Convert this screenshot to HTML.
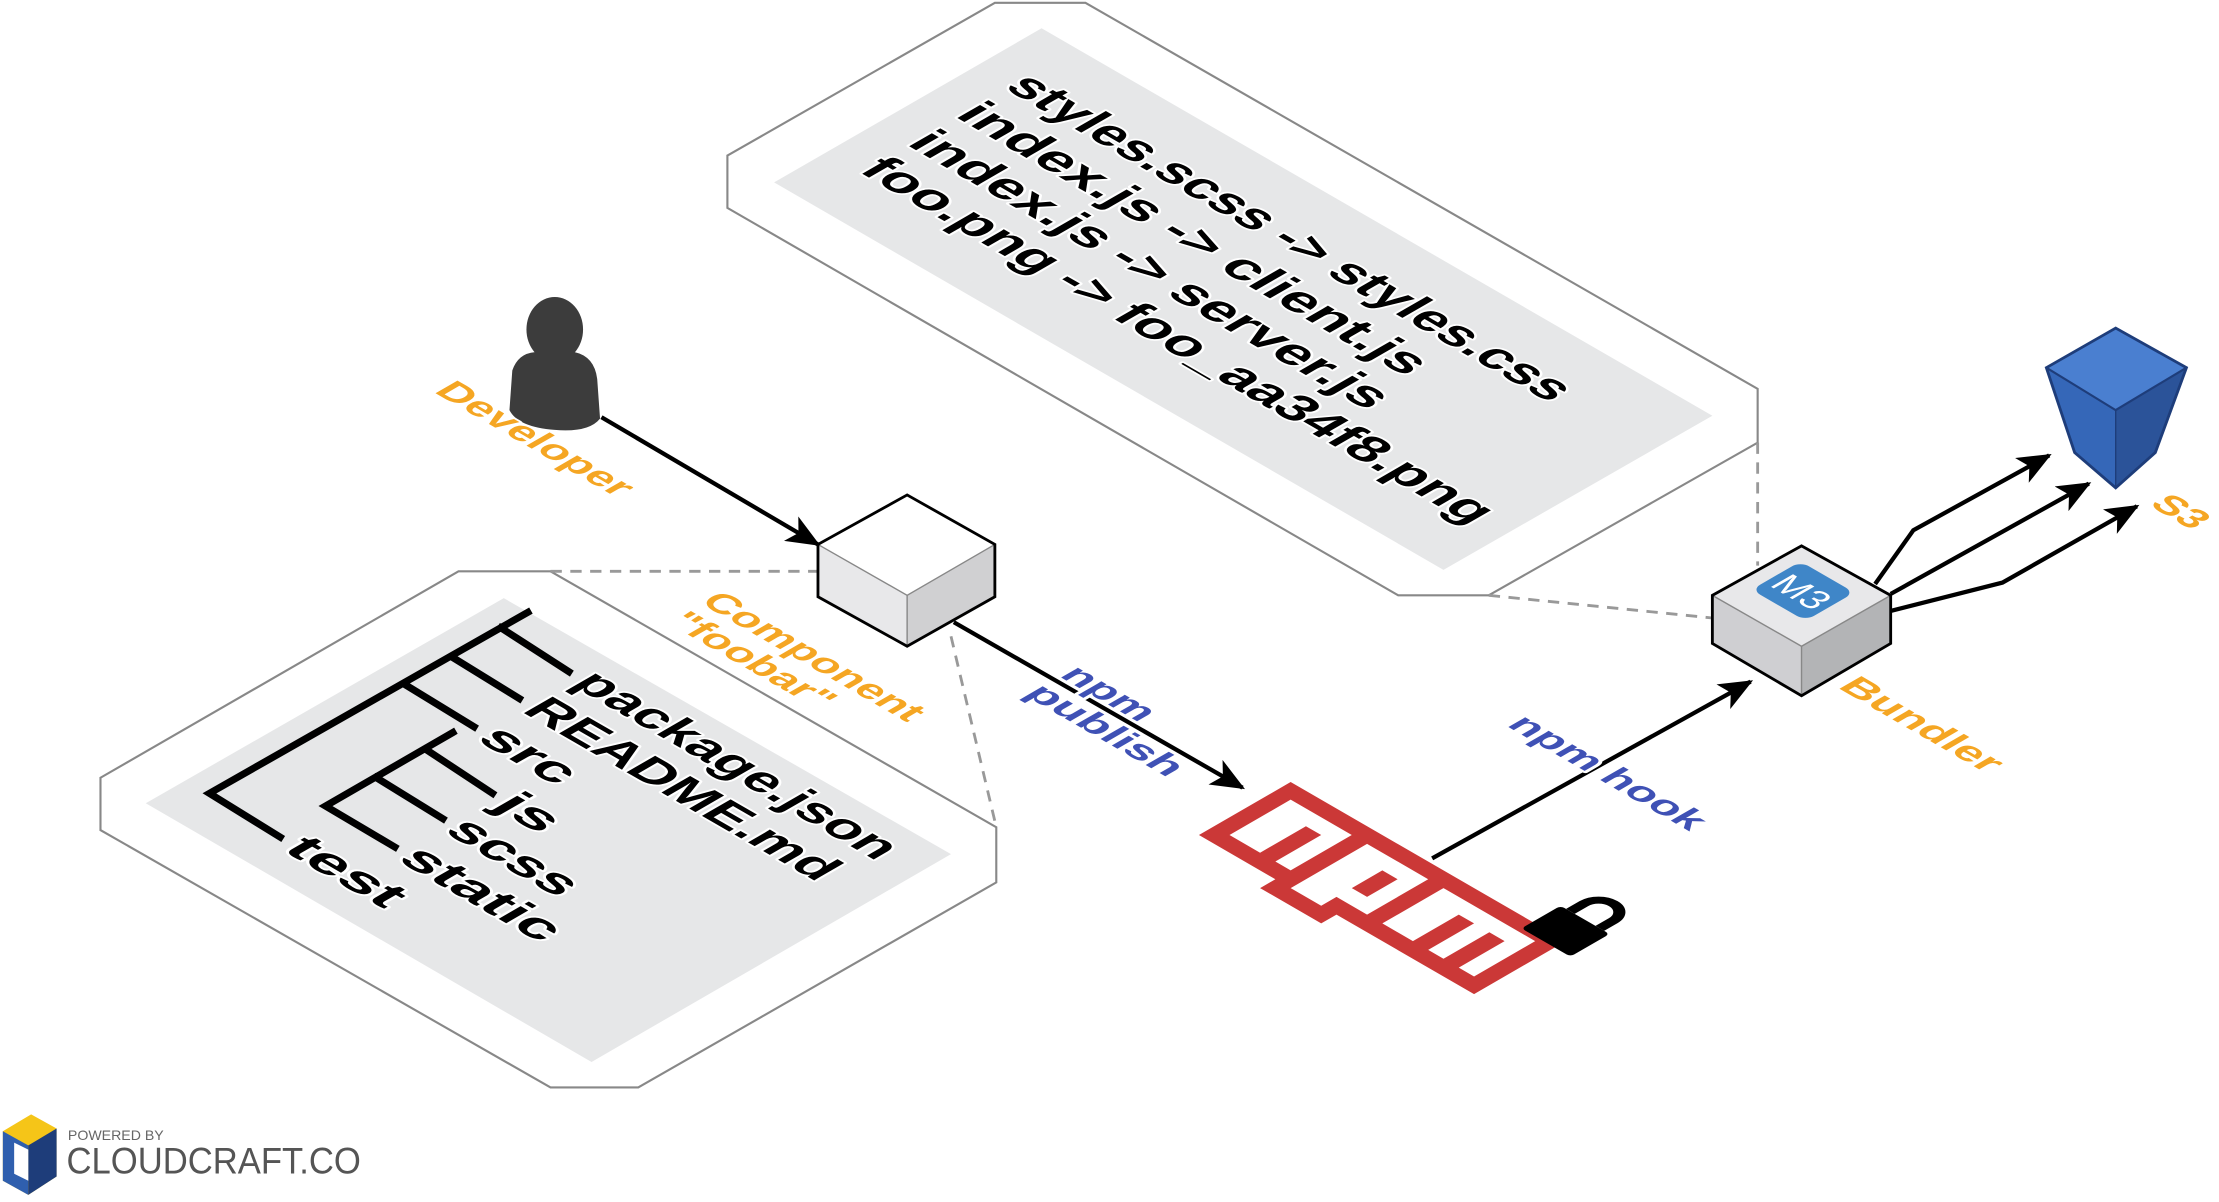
<!DOCTYPE html>
<html><head><meta charset="utf-8"><style>html,body{margin:0;padding:0;background:#fff;}svg{display:block}</style></head>
<body>
<svg width="2219" height="1202" viewBox="0 0 1568 850" preserveAspectRatio="none" xmlns="http://www.w3.org/2000/svg" font-family="'Liberation Sans', 'DejaVu Sans', sans-serif" font-weight="bold">
<defs>
<marker id="a" viewBox="0 0 24 20" refX="22" refY="10" markerWidth="24" markerHeight="20" orient="auto" markerUnits="userSpaceOnUse">
<path d="M0,0 L24,10 L0,20 L6,10 Z" fill="#000"/>
</marker>
</defs>

<!-- top panel -->
<polygon points="514,110 703,2 767,2 1242,275 1242,313 1052,421 988,421 514,147" fill="#fff" stroke="#888" stroke-width="1.5"/>
<polygon points="736,20 1210,294 1020,403 547,129" fill="#e6e7e8"/>
<g font-size="35" fill="#000" stroke="#fff" stroke-width="3" paint-order="stroke" stroke-linejoin="round">
<text transform="matrix(0.866,0.5,-0.866,0.5,709,62)" textLength="446" lengthAdjust="spacingAndGlyphs">styles.scss -&gt; styles.css</text>
<text transform="matrix(0.866,0.5,-0.866,0.5,674,82)" textLength="369" lengthAdjust="spacingAndGlyphs">index.js -&gt; client.js</text>
<text transform="matrix(0.866,0.5,-0.866,0.5,640,102)" textLength="377" lengthAdjust="spacingAndGlyphs">index.js -&gt; server.js</text>
<text transform="matrix(0.866,0.5,-0.866,0.5,606,121)" textLength="501" lengthAdjust="spacingAndGlyphs">foo.png -&gt; foo_aa34f8.png</text>
</g>

<!-- left panel -->
<polygon points="71,550 324,404 389,404 704,585 704,624 451,769 389,769 71,587" fill="#fff" stroke="#888" stroke-width="1.5"/>
<polygon points="356,423 672,604 418,751 103,568" fill="#e6e7e8"/>
<g stroke="#000" stroke-width="5" fill="none" stroke-linecap="square">
<polyline points="373,433 148,561 198,592"/>
<line x1="354" y1="444" x2="402" y2="475"/>
<line x1="320" y1="465" x2="367" y2="494"/>
<line x1="286" y1="484" x2="335" y2="514"/>
<polyline points="320,518 230,570 279,599"/>
<line x1="301" y1="530" x2="348" y2="561"/>
<line x1="266" y1="550" x2="313" y2="579"/>
</g>
<g font-size="34" fill="#000" stroke="#fff" stroke-width="3" paint-order="stroke" stroke-linejoin="round">
<text transform="matrix(0.866,0.5,-0.866,0.5,403,484)" textLength="250" lengthAdjust="spacingAndGlyphs">package.json</text>
<text transform="matrix(0.866,0.5,-0.866,0.5,368,503)" textLength="242" lengthAdjust="spacingAndGlyphs">README.md</text>
<text transform="matrix(0.866,0.5,-0.866,0.5,336,523)" textLength="66" lengthAdjust="spacingAndGlyphs">src</text>
<text transform="matrix(0.866,0.5,-0.866,0.5,347,570)" textLength="40" lengthAdjust="spacingAndGlyphs">js</text>
<text transform="matrix(0.866,0.5,-0.866,0.5,313,588)" textLength="94" lengthAdjust="spacingAndGlyphs">scss</text>
<text transform="matrix(0.866,0.5,-0.866,0.5,280,608)" textLength="118" lengthAdjust="spacingAndGlyphs">static</text>
<text transform="matrix(0.866,0.5,-0.866,0.5,199,601)" textLength="84" lengthAdjust="spacingAndGlyphs">test</text>
</g>

<!-- dashed -->
<g stroke="#999" stroke-width="2" stroke-dasharray="8,6" fill="none">
<line x1="389" y1="404" x2="578" y2="404"/>
<line x1="672" y1="450" x2="704" y2="585"/>
<line x1="1052" y1="421" x2="1210" y2="437"/>
<line x1="1242" y1="313" x2="1242" y2="400"/>
</g>

<!-- developer -->
<g fill="#3c3c3c">
<ellipse cx="392" cy="233" rx="20" ry="23"/>
<path d="M362,262 Q366,250 378,249 L406,249 Q420,252 422,268 L424,296 Q416,306 392,304 Q366,302 360,290 Z"/>
</g>
<line x1="425" y1="295" x2="578" y2="385" stroke="#000" stroke-width="3" marker-end="url(#a)"/>

<!-- component cube -->
<polygon points="641,350 703,385 641,421 578,385" fill="#fff"/>
<polygon points="578,385 641,421 641,457 578,422" fill="#e8e8ea"/>
<polygon points="641,421 703,385 703,422 641,457" fill="#d0d0d2"/>
<polyline points="578,385 641,421 703,385" fill="none" stroke="#888" stroke-width="1"/>
<line x1="641" y1="421" x2="641" y2="457" stroke="#888" stroke-width="1"/>
<polygon points="641,350 703,385 703,422 641,457 578,422 578,385" fill="none" stroke="#000" stroke-width="2"/>

<!-- arrow to npm -->
<line x1="674" y1="440" x2="878" y2="557" stroke="#000" stroke-width="3" marker-end="url(#a)"/>

<!-- npm logo -->
<g transform="matrix(10.8,6.25,-10.8,6.25,912,553)">
<path fill="#cb3837" fill-rule="evenodd" d="M0,0h18v6H9v1H5V6H0V0z M1,5h2V2h1v3h1V1H1V5z M6,1v5h2V5h2V1H6z M8,2h1v2H8V2z M11,1v4h2V2h1v3h1V2h1v3h1V1H11z"/>
</g>
<!-- lock -->
<g transform="matrix(0.866,0.5,-0.866,0.5,1114,654)">
<rect x="-20" y="-7" width="40" height="32" rx="3" fill="#000"/>
<path d="M-12,-7 V-18 A12,12 0 0 1 12,-18 V-7" fill="none" stroke="#000" stroke-width="7"/>
</g>

<!-- npm hook arrow -->
<line x1="1012" y1="607" x2="1237" y2="482" stroke="#000" stroke-width="3" marker-end="url(#a)"/>

<!-- bundler cube -->
<polygon points="1273,386 1336,421 1273,457 1210,421" fill="#e8e8ea"/>
<polygon points="1210,421 1273,457 1273,492 1210,455" fill="#cfcfd2"/>
<polygon points="1273,457 1336,421 1336,455 1273,492" fill="#b3b4b6"/>
<polyline points="1210,421 1273,457 1336,421" fill="none" stroke="#888" stroke-width="1"/>
<line x1="1273" y1="457" x2="1273" y2="492" stroke="#888" stroke-width="1"/>
<polygon points="1273,386 1336,421 1336,455 1273,492 1210,455 1210,421" fill="none" stroke="#000" stroke-width="2"/>
<g transform="matrix(0.866,0.5,-0.866,0.5,1274,418)">
<rect x="-22" y="-20" width="44" height="40" rx="7" fill="#3f86c8"/>
<text x="0" y="10" font-size="26" font-weight="normal" fill="#fff" text-anchor="middle">M3</text>
</g>

<!-- arrows to S3 -->
<g stroke="#000" stroke-width="3" fill="none">
<polyline points="1325,413 1352,375 1448,322" marker-end="url(#a)"/>
<line x1="1336" y1="420" x2="1476" y2="342" marker-end="url(#a)"/>
<polyline points="1336,432 1415,412 1510,358" marker-end="url(#a)"/>
</g>

<!-- S3 bucket -->
<polygon points="1446,260 1495,290 1495,345 1466,320" fill="#3567b8"/>
<polygon points="1495,290 1545,260 1523,320 1495,345" fill="#2b5399"/>
<polygon points="1446,260 1495,232 1545,260 1495,290" fill="#4a7fd0"/>
<polygon points="1446,260 1495,232 1545,260 1523,320 1495,345 1466,320" fill="none" stroke="#1e3d7a" stroke-width="2"/>
<polyline points="1446,260 1495,290 1545,260" fill="none" stroke="#1e3d7a" stroke-width="1.5"/>
<line x1="1495" y1="290" x2="1495" y2="345" stroke="#1e3d7a" stroke-width="1"/>

<!-- labels -->
<g font-size="26" fill="#f5a623" stroke="#fff" stroke-width="3" paint-order="stroke" stroke-linejoin="round">
<text transform="matrix(0.866,0.5,-0.866,0.5,306,277)" textLength="150" lengthAdjust="spacingAndGlyphs">Developer</text>
<text transform="matrix(0.866,0.5,-0.866,0.5,494,426)" textLength="170" lengthAdjust="spacingAndGlyphs">Component</text>
<text transform="matrix(0.866,0.5,-0.866,0.5,471,440)" textLength="124" lengthAdjust="spacingAndGlyphs">"foobar"</text>
<text transform="matrix(0.866,0.5,-0.866,0.5,1298,486)" textLength="122" lengthAdjust="spacingAndGlyphs">Bundler</text>
<text transform="matrix(0.866,0.5,-0.866,0.5,1518,357)" textLength="36" lengthAdjust="spacingAndGlyphs">S3</text>
</g>
<g font-size="26" fill="#3f51b5" stroke="#fff" stroke-width="4" paint-order="stroke" stroke-linejoin="round">
<text transform="matrix(0.866,0.5,-0.866,0.5,748,478)" textLength="66" lengthAdjust="spacingAndGlyphs">npm</text>
<text transform="matrix(0.866,0.5,-0.866,0.5,723,491)" textLength="118" lengthAdjust="spacingAndGlyphs">publish</text>
<text transform="matrix(0.866,0.5,-0.866,0.5,1064,513)" textLength="150" lengthAdjust="spacingAndGlyphs">npm hook</text>
</g>

<!-- cloudcraft logo -->
<polygon points="2,800 22,788 40,798 40,832 20,845 2,835" fill="#f5c518"/>
<polygon points="2,800 20,810 20,845 2,835" fill="#2f5fae"/>
<polygon points="20,810 40,798 40,832 20,845" fill="#1e3d7a"/>
<polygon points="10,808 20,813 20,835 10,830" fill="#fff"/>
<text x="48" y="806" font-size="10" font-weight="normal" fill="#666">POWERED BY</text>
<text x="47" y="830" font-size="26" font-weight="normal" fill="#555" textLength="208" lengthAdjust="spacingAndGlyphs">CLOUDCRAFT.CO</text>
</svg>
</body></html>
